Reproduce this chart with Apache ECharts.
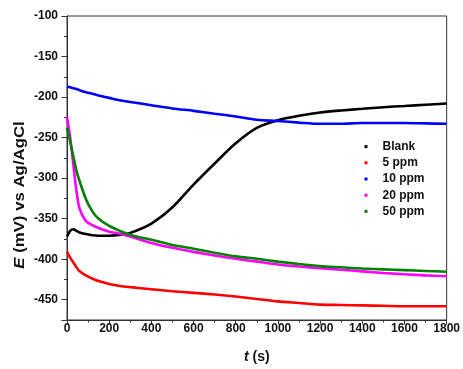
<!DOCTYPE html>
<html>
<head>
<meta charset="utf-8">
<script src="https://cdn.jsdelivr.net/npm/echarts@6/dist/echarts.min.js"></script>
<style>
  html, body { margin: 0; padding: 0; background: #fff; }
  #chart { width: 463px; height: 369px; }
</style>
</head>
<body>
<div id="chart"></div>
<script>
// Open-circuit potential vs time for each inhibitor concentration
const times = [0, 15, 30, 45, 60, 90, 120, 150, 200, 250, 300, 400, 500, 600, 700, 800, 900, 1000, 1100, 1200, 1300, 1400, 1500, 1600, 1700, 1800];

const blank = [-372, -365, -363, -365, -367, -369, -370.5, -371, -371, -370, -367.5, -356, -336, -308, -282, -257, -238, -228.5, -223, -219, -216.5, -214.5, -212.5, -211, -209.5, -208];
const ppm5 = [-391, -398, -404, -410, -415, -420, -424, -427, -430.5, -433, -434.5, -437, -439.5, -441.5, -443.5, -446, -449, -452, -454, -456, -456.5, -457, -457.5, -458, -458, -458];
const ppm10 = [-187, -188, -189, -190, -191.5, -194, -196, -198, -201, -204, -206, -210, -214, -217, -220.5, -224, -228, -229.5, -231.5, -233, -233, -232, -232, -232, -232.5, -233];
const ppm20 = [-225, -250, -283, -316, -338, -353, -358, -361.5, -366, -368.5, -372, -380, -386, -391, -395.5, -399.5, -403, -406.5, -409, -411, -413, -415, -417, -418.5, -420, -421];
const ppm50 = [-238, -255, -273, -291, -304, -326, -341, -350, -359, -365, -370, -376, -382.5, -387, -392, -396.5, -399.5, -403, -406, -408.5, -410, -411.5, -412.5, -413.5, -414.5, -415.5];

const seriesNames = ['Blank', '5 ppm', '10 ppm', '20 ppm', '50 ppm'];
const seriesColors = ['#000000', '#ff0000', '#0000ff', '#ff00ff', '#008000'];
const seriesValues = [blank, ppm5, ppm10, ppm20, ppm50];

const xTicks = { min: 0, max: 1800, step: 200 };
const yRange = { min: -475, max: -100, minorStep: 25 };

const FONT = '"Liberation Sans", Arial, sans-serif';
const chart = echarts.init(document.getElementById('chart'), null, { renderer: 'canvas' });

const pairs = (vals) => times.map((t, i) => [t, vals[i]]);

const option = {
  animation: false,
  backgroundColor: '#ffffff',
  grid: {
    left: 67, right: 15, top: 16, bottom: 47,
    show: true, borderColor: '#333', borderWidth: 1, backgroundColor: 'transparent'
  },
  xAxis: {
    type: 'value',
    min: xTicks.min, max: xTicks.max, interval: xTicks.step,
    name: '{i|t} (s)',
    nameLocation: 'middle',
    nameGap: 30,
    nameTextStyle: {
      fontFamily: FONT, fontSize: 14, fontWeight: 'bold', color: '#111',
      rich: { i: { fontFamily: FONT, fontSize: 14, fontWeight: 'bold', fontStyle: 'italic', color: '#111' } }
    },
    axisLine: { show: true, lineStyle: { color: '#333', width: 1 } },
    axisTick: { show: true, inside: false, length: 4.5, lineStyle: { color: '#333' } },
    minorTick: { show: true, splitNumber: 2, length: 2.5, lineStyle: { color: '#333' } },
    splitLine: { show: false },
    axisLabel: {
      fontFamily: FONT, fontSize: 12, fontWeight: 'bold', color: '#111', margin: 3,
      formatter: (v) => String(v)
    }
  },
  yAxis: [
    {
      // short ticks every 25 mV
      type: 'value',
      position: 'left',
      min: yRange.min, max: yRange.max, interval: yRange.minorStep,
      axisLine: { show: false },
      axisTick: { show: true, inside: false, length: 3, lineStyle: { color: '#333' } },
      axisLabel: { show: false },
      splitLine: { show: false }
    },
    {
      // labelled ticks every 50 mV
      type: 'value',
      position: 'left',
      offset: 0,
      min: yRange.min, max: yRange.max, splitNumber: 7,
      axisLine: { show: true, lineStyle: { color: '#333', width: 1 } },
      axisTick: { show: true, inside: false, length: 5.5, lineStyle: { color: '#333' } },
      axisLabel: {
        fontFamily: FONT, fontSize: 12, fontWeight: 'bold', color: '#111', margin: 9,
        formatter: (v) => (v % 50 === 0 ? String(v) : '')
      },
      splitLine: { show: false }
    }
  ],
  legend: {
    orient: 'vertical',
    left: 364.5, top: 138.5,
    padding: 0,
    itemGap: 0,
    itemWidth: 3, itemHeight: 3,
    icon: 'rect',
    textStyle: { fontFamily: FONT, fontSize: 12, fontWeight: 'bold', color: '#111', lineHeight: 16.2, padding: [0, 0, 0, 10] },
    data: seriesNames
  },
  graphic: [
    {
      type: 'text',
      x: 20, y: 195,
      rotation: Math.PI / 2,
      scaleX: 1.2,
      style: {
        text: '{i|E} (mV) vs Ag/AgCl',
        fontFamily: FONT, fontSize: 14, fontWeight: 'bold', fill: '#111',
        align: 'center', verticalAlign: 'middle',
        rich: { i: { fontFamily: FONT, fontSize: 14, fontWeight: 'bold', fontStyle: 'italic', fill: '#111' } }
      }
    }
  ],
  series: seriesNames.map((name, k) => ({
    name: name,
    type: 'line',
    yAxisIndex: 1,
    data: pairs(seriesValues[k]),
    smooth: 0.3,
    showSymbol: false,
    symbol: 'rect',
    symbolSize: 3,
    itemStyle: { color: seriesColors[k] },
    lineStyle: { color: seriesColors[k], width: 2.6 },
    z: 2 + k
  }))
};

chart.setOption(option);
</script>
</body>
</html>
